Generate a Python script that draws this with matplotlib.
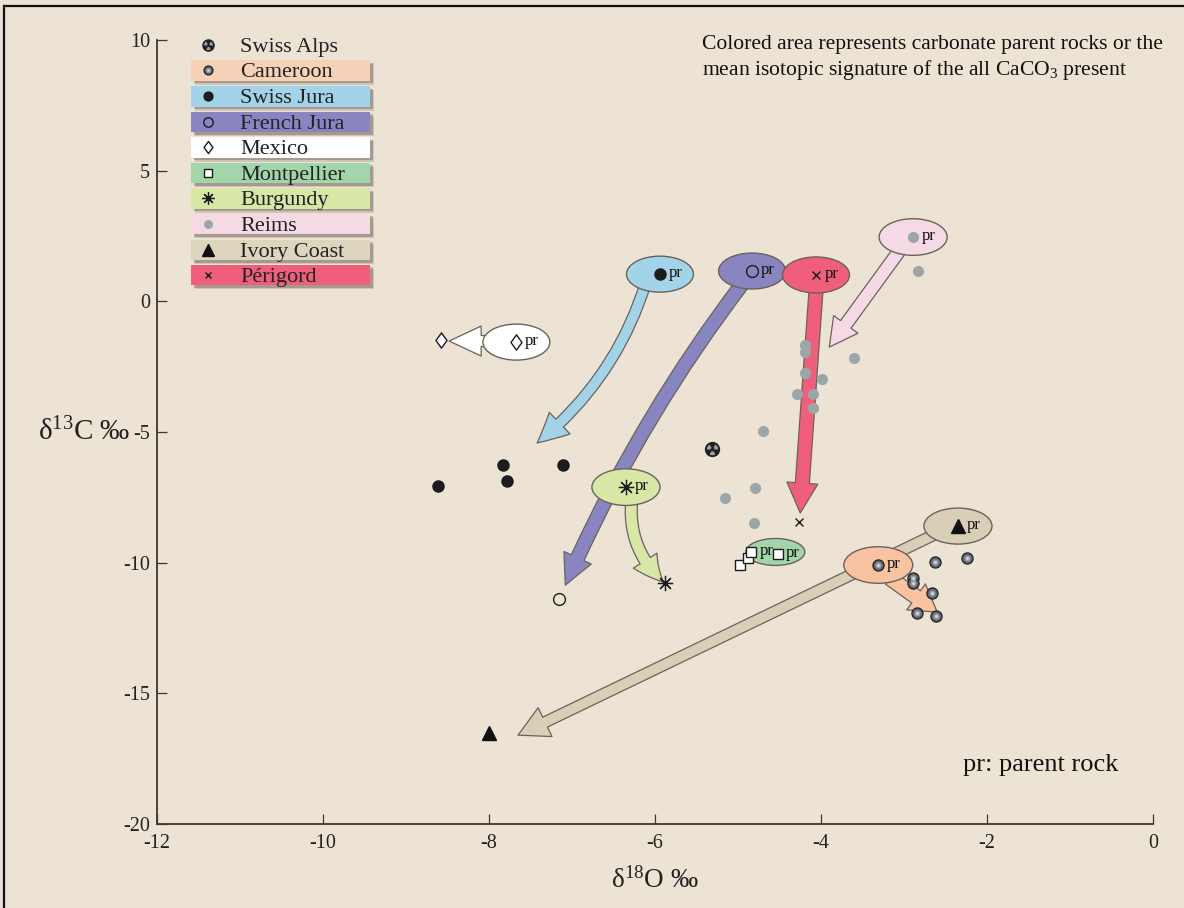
import numpy as np
import matplotlib
matplotlib.use("Agg")
import matplotlib.pyplot as plt
from matplotlib.patches import Ellipse, Rectangle, FancyArrowPatch, ArrowStyle
from matplotlib.path import Path
from matplotlib.lines import Line2D

plt.rcParams['font.family'] = ['Liberation Serif', 'DejaVu Serif']
plt.rcParams['mathtext.fontset'] = 'custom'
plt.rcParams['mathtext.rm'] = 'Liberation Serif'
plt.rcParams['mathtext.default'] = 'regular'

BG = '#ece3d4'
INK = '#1c1c1c'
EDGE = '#6b625c'

# ---- isotope data (d18O, d13C, permil) ----
swiss_alps_o = [-5.31]
swiss_alps_c = [-5.65]

cameroon_o = [-2.63, -2.24, -2.89, -2.89, -2.66, -2.84, -2.61]
cameroon_c = [-9.98, -9.82, -10.59, -10.78, -11.16, -11.93, -12.04]
cameroon_pr = [-3.31, -10.09]

swiss_jura_o = [-8.61, -7.83, -7.78, -7.11]
swiss_jura_c = [-7.07, -6.26, -6.88, -6.26]
swiss_jura_pr = [-5.94, 1.04]

french_jura_o = [-7.16]
french_jura_c = [-11.39]
french_jura_pr = [-4.83, 1.16]

mexico_o = [-8.58]
mexico_c = [-1.48]
mexico_pr = [-7.67, -1.56]

montpellier_o = [-4.98, -4.88]
montpellier_c = [-10.09, -9.82]
montpellier_pr_o = [-4.84, -4.52]
montpellier_pr_c = [-9.59, -9.67]
montpellier_area = [-4.55, -9.59]

burgundy_o = [-5.88]
burgundy_c = [-10.78]
burgundy_pr = [-6.35, -7.11]

reims_o = [-4.19, -4.19, -4.19, -3.99, -4.29, -4.10, -4.10, -3.60, -4.70, -4.80, -5.16, -4.81, -2.83]
reims_c = [-1.67, -1.94, -2.74, -2.97, -3.55, -3.55, -4.08, -2.17, -4.96, -7.14, -7.53, -8.48, 1.16]
reims_pr = [-2.89, 2.46]

ivory_o = [-8.00]
ivory_c = [-16.52]
ivory_pr = [-2.35, -8.60]

perigord_o = [-4.27]
perigord_c = [-8.45]
perigord_pr = [-4.06, 1.01]

# ---- arrows: (from, to, curvature, fill, tail, head width, head length) ----
arrows = [
    ((-6.12, 0.62), (-7.42, -5.42), -0.15, '#a3d3e8', 11, 30, 30),   # Swiss Jura
    ((-4.95, 0.66), (-7.08, -10.86), 0.06, '#8985c1', 14, 30, 30),   # French Jura
    ((-6.28, -7.60), (-5.90, -10.74), 0.25, '#d8e6a6', 12, 28, 28),  # Burgundy
    ((-4.06, 0.43), (-4.25, -8.10), 0.0, '#ef5f7c', 14, 31, 30),     # Perigord
    ((-3.05, 1.96), (-3.90, -1.75), 0.0, '#f5dae6', 13, 30, 28),     # Reims
    ((-7.87, -1.52), (-8.48, -1.52), 0.0, '#ffffff', 11, 30, 32),    # Mexico
    ((-2.57, -8.83), (-7.65, -16.60), 0.0, '#d8cfb6', 11, 32, 30),   # Ivory Coast
    ((-3.17, -10.59), (-2.60, -11.89), 0.0, '#f9c3a2', 15, 32, 26),  # Cameroon
]

# ---- parent-rock areas: (centre, fill, width, height) ----
areas = [
    (swiss_jura_pr, '#a3d3e8', 0.807, 1.378),
    (french_jura_pr, '#8985c1', 0.807, 1.378),
    (perigord_pr, '#ef5f7c', 0.807, 1.378),
    (reims_pr, '#f5dae6', 0.82, 1.40),
    (mexico_pr, '#ffffff', 0.807, 1.378),
    (burgundy_pr, '#d8e6a6', 0.82, 1.40),
    (ivory_pr, '#d8cfb6', 0.82, 1.378),
    (cameroon_pr, '#f9c3a2', 0.83, 1.40),
    (montpellier_area, '#a3d5aa', 0.71, 1.03),
]

legend_labels = ['Swiss Alps', 'Cameroon', 'Swiss Jura', 'French Jura', 'Mexico',
                 'Montpellier', 'Burgundy', 'Reims', 'Ivory Coast', 'Périgord']
legend_bands = [None, '#f5d2b8', '#a3d3e8', '#8985c1', '#ffffff',
                '#a3d5aa', '#d8e6a6', '#f5dae6', '#ddd5bd', '#ef5f7c']

x_ticks = [-12, -10, -8, -6, -4, -2, 0]
y_ticks = [10, 5, 0, -5, -10, -15, -20]


def blade_marker():
    verts, codes = [], []
    for c in (30, 150, 270):
        t = np.radians(np.linspace(c - 30, c + 30, 14))
        outer = np.column_stack([np.cos(t), np.sin(t)])
        inner = 0.32 * np.column_stack([np.cos(t[::-1]), np.sin(t[::-1])])
        pts = np.vstack([outer, inner, outer[:1]])
        verts.extend(pts.tolist())
        codes.extend([Path.MOVETO] + [Path.LINETO] * (len(pts) - 2) + [Path.CLOSEPOLY])
    return Path(verts, codes)


BLADES = blade_marker()
DIAMOND = Path([(0, 1), (0.72, 0), (0, -1), (-0.72, 0), (0, 1)],
               [Path.MOVETO, Path.LINETO, Path.LINETO, Path.LINETO, Path.CLOSEPOLY])

STYLES = {
    'Swiss Jura': dict(marker='o', mfc=INK, mec=INK, ms=8),
    'French Jura': dict(marker='o', mfc='none', mec=INK, ms=8.5, mew=1.0),
    'Mexico': dict(marker=DIAMOND, mfc='white', mec=INK, ms=11, mew=1.0),
    'Montpellier': dict(marker='s', mfc='white', mec=INK, ms=7, mew=1.0),
    'Burgundy': dict(marker=(8, 2, 0), mfc=INK, mec=INK, ms=11, mew=0.9),
    'Reims': dict(marker='o', mfc='#9ca5a8', mec='none', ms=8),
    'Ivory Coast': dict(marker='^', mfc='#111111', mec='#111111', ms=10),
    'Périgord': dict(marker='x', mfc=INK, mec=INK, ms=6, mew=1.0),
}


def draw_points(ax, name, xs, ys, scale=1.0, **kw):
    if name == 'Swiss Alps':
        ax.plot(xs, ys, ls='none', marker='o', mfc='#202020', mec='#202020', ms=10 * scale, **kw)
        ax.plot(xs, ys, ls='none', marker=BLADES, mfc='#9aa0a4', mec='none', ms=8.2 * scale, **kw)
    elif name == 'Cameroon':
        ax.plot(xs, ys, ls='none', marker='o', mfc='#646b72', mec='#1e1e1e', mew=0.9, ms=8 * scale, **kw)
        ax.plot(xs, ys, ls='none', marker='o', mfc='#9aa1a7', mec='none', ms=4.2 * scale, **kw)
        ax.plot(xs, ys, ls='none', marker='o', mfc='#d4d8db', mec='none', ms=2.0 * scale, **kw)
    else:
        st = dict(STYLES[name])
        st['ms'] = st['ms'] * scale
        ax.plot(xs, ys, ls='none', **st, **kw)


fig = plt.figure(figsize=(11.84, 9.08), dpi=100, facecolor=BG)
ax = fig.add_axes([157 / 1184, 1 - 824 / 908, 996 / 1184, 784 / 908])
ax.set_facecolor(BG)
ax.set_xlim(-12, 0)
ax.set_ylim(-20, 10)
ax.set_xticks(x_ticks)
ax.set_yticks(y_ticks)
ax.set_xticklabels([str(v) for v in x_ticks])
ax.set_yticklabels([str(v) for v in y_ticks])
for s in ('top', 'right'):
    ax.spines[s].set_visible(False)
for s in ('left', 'bottom'):
    ax.spines[s].set_color('#3d3532')
    ax.spines[s].set_linewidth(1.3)
ax.tick_params(direction='in', length=7, width=0.9, color='#3d3532',
               labelsize=14.5, labelcolor='#222222')
ax.tick_params(axis='x', pad=7)
ax.tick_params(axis='y', pad=5)

ax.set_xlabel(r'δ$^{18}$O ‰', fontsize=19.5, color='#222222')
ax.xaxis.set_label_coords(0.5, -0.055)
ax.set_ylabel(r'δ$^{13}$C ‰', fontsize=21, color='#222222', rotation=0,
              ha='right', va='center')
ax.yaxis.set_label_coords(-0.027, 0.5)

# arrows from parent rock to samples
for (p0, p1, rad, fc, tw, hw, hl) in arrows:
    k = 0.72
    style = ArrowStyle.Simple(head_length=hl * k, head_width=hw * k, tail_width=tw * k)
    arr = FancyArrowPatch(p0, p1, arrowstyle=style, mutation_scale=1,
                          connectionstyle=f'arc3,rad={rad}', shrinkA=0, shrinkB=0,
                          fc=fc, ec=EDGE, lw=0.9, zorder=2)
    ax.add_patch(arr)

# parent-rock areas
for (c, fc, w, h) in areas:
    ax.add_patch(Ellipse(c, w, h, fc=fc, ec=EDGE, lw=1.0, zorder=3))

# sample points
draw_points(ax, 'Swiss Alps', swiss_alps_o, swiss_alps_c, zorder=5)
draw_points(ax, 'Cameroon', cameroon_o, cameroon_c, zorder=5)
draw_points(ax, 'Swiss Jura', swiss_jura_o, swiss_jura_c, zorder=5)
draw_points(ax, 'French Jura', french_jura_o, french_jura_c, zorder=5)
draw_points(ax, 'Mexico', mexico_o, mexico_c, zorder=5)
draw_points(ax, 'Montpellier', montpellier_o, montpellier_c, zorder=5)
draw_points(ax, 'Burgundy', burgundy_o, burgundy_c, zorder=5)
draw_points(ax, 'Reims', reims_o, reims_c, zorder=5)
draw_points(ax, 'Ivory Coast', ivory_o, ivory_c, zorder=5)
draw_points(ax, 'Périgord', perigord_o, perigord_c, zorder=5)

# parent rock markers with "pr" tags
pr_sets = [
    ('Swiss Jura', [swiss_jura_pr[0]], [swiss_jura_pr[1]]),
    ('French Jura', [french_jura_pr[0]], [french_jura_pr[1]]),
    ('Périgord', [perigord_pr[0]], [perigord_pr[1]]),
    ('Reims', [reims_pr[0]], [reims_pr[1]]),
    ('Mexico', [mexico_pr[0]], [mexico_pr[1]]),
    ('Burgundy', [burgundy_pr[0]], [burgundy_pr[1]]),
    ('Ivory Coast', [ivory_pr[0]], [ivory_pr[1]]),
    ('Cameroon', [cameroon_pr[0]], [cameroon_pr[1]]),
    ('Montpellier', montpellier_pr_o, montpellier_pr_c),
]
for name, xs, ys in pr_sets:
    draw_points(ax, name, xs, ys, zorder=6)
    for x, y in zip(xs, ys):
        ax.annotate('pr', (x, y), xytext=(6, 1), textcoords='offset points',
                    ha='left', va='center', fontsize=12, color='#111111', zorder=7)

# legend with coloured bands
def fx(px):
    return (px - 157) / 996


def fy(py):
    return (824 - py) / 784


row_y = [45, 70.5, 96.5, 122, 147.5, 173, 198.5, 224, 250, 275]
for lab, band, py in zip(legend_labels, legend_bands, row_y):
    if band is not None:
        for off, a in ((4, 0.18), (2.5, 0.3)):
            ax.add_patch(Rectangle((fx(191 + off), fy(py + 10.3 + off)), 179 / 996, 20.5 / 784,
                                   transform=ax.transAxes, fc='#4a3c34', ec='none',
                                   alpha=a, zorder=7))
        ax.add_patch(Rectangle((fx(191), fy(py + 10.3)), 179 / 996, 20.5 / 784,
                               transform=ax.transAxes, fc=band, ec='none', zorder=8))
    draw_points(ax, lab, [fx(208)], [fy(py)], scale=0.8, transform=ax.transAxes,
                zorder=9, clip_on=False)
    ax.text(fx(240), fy(py), lab, transform=ax.transAxes, ha='left',
            va='center_baseline', fontsize=16, color='#222222', zorder=9)

# notes
ax.text(fx(702), fy(49), 'Colored area represents carbonate parent rocks or the',
        transform=ax.transAxes, ha='left', va='baseline', fontsize=15.6, color='#111111')
ax.text(fx(702), fy(75), r'mean isotopic signature of the all CaCO$_3$ present',
        transform=ax.transAxes, ha='left', va='baseline', fontsize=15.6, color='#111111')
ax.text(fx(963), fy(771), 'pr: parent rock', transform=ax.transAxes, ha='left',
        va='baseline', fontsize=19, color='#111111')

# outer frame
fig.add_artist(Line2D([4 / 1184, 1], [1 - 6 / 908, 1 - 6 / 908], transform=fig.transFigure,
                      color='#111111', lw=1.6))
fig.add_artist(Line2D([4 / 1184, 4 / 1184], [0, 1 - 6 / 908], transform=fig.transFigure,
                      color='#111111', lw=1.6))

fig.savefig('out.png', dpi=100, facecolor=BG)
